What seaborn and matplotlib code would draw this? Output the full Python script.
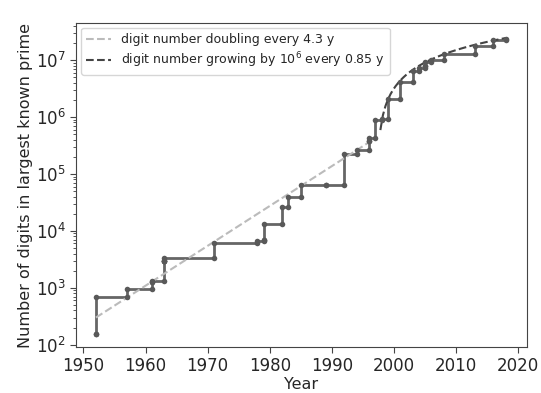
import numpy as np
import pandas as pd
import matplotlib
matplotlib.use('Agg')
import matplotlib.pyplot as plt
import seaborn as sns

# record primes: year found, number of decimal digits
years = [1952, 1952, 1957, 1961, 1961, 1963, 1963, 1963,
         1971, 1978, 1979, 1979, 1982, 1983, 1985, 1989, 1992, 1994, 1996,
         1996, 1997, 1998, 1999, 2001, 2003, 2004, 2005, 2005, 2006, 2008,
         2013, 2016, 2018]
digits = [157, 687, 969, 1281, 1332, 2917, 2993, 3376,
          6002, 6533, 6987, 13395, 25962, 39751, 65050, 65087, 227832,
          258716, 378632, 420921, 895932, 909526, 2098960, 4053946,
          6320430, 7235733, 7816230, 9152052, 9808358, 12978189,
          17425170, 22338618, 23249425]

# fit parameters shown in the legend
exp_start, exp_end, exp_base, doubling = 1952.0, 1996.0, 300.0, 4.3
lin_start, lin_end, lin_zero, per_million = 1997.8, 2018.0, 1997.3, 0.85

sns.set_style('ticks')
plt.rcParams['font.family'] = ['DejaVu Sans']

fig = plt.figure(figsize=(5.41, 3.93), dpi=100)
ax = fig.add_axes([0.1405, 0.117, 0.8335, 0.8245])

records = pd.DataFrame({'year': years, 'digits': digits})
# the corner of each step (new year, old record) gets a marker too
corners = pd.DataFrame({'year': years[1:], 'digits': digits[:-1]})
step_col = '#666666'

sns.lineplot(data=records, x='year', y='digits', ax=ax, estimator=None,
             sort=False, drawstyle='steps-post', color=step_col, lw=2)
sns.scatterplot(data=pd.concat([records, corners]), x='year', y='digits', ax=ax,
                color='#595959', s=16, linewidth=0, zorder=3)

t1 = np.linspace(exp_start, exp_end, 50)
sns.lineplot(x=t1, y=exp_base * 2 ** ((t1 - exp_start) / doubling), ax=ax,
             color='#bbbbbb', lw=1.5, linestyle='--',
             label='digit number doubling every 4.3 y')

t2 = np.linspace(lin_start, lin_end, 50)
sns.lineplot(x=t2, y=(t2 - lin_zero) / per_million * 1e6, ax=ax,
             color='#444444', lw=1.5, linestyle='--',
             label='digit number growing by $10^6$ every 0.85 y')

ax.set_yscale('log')
ax.set_xlim(1948.8, 2021.4)
ax.set_ylim(10 ** 1.96, 10 ** 7.65)
ax.set_xticks(range(1950, 2021, 10))
ax.tick_params(axis='both', labelsize=12, length=4, color='#444444')
ax.tick_params(axis='y', which='minor', left=True, length=2.2, width=0.7, color='#555555')
ax.set_xlabel('Year', fontsize=11.5, labelpad=1)
ax.set_ylabel('Number of digits in largest known prime', fontsize=11.5, labelpad=2)
for s in ax.spines.values():
    s.set_color('#444444')
ax.legend(loc='upper left', fontsize=9, frameon=True, labelspacing=0.35,
          borderaxespad=0.4)

fig.savefig('out.png', dpi=100)
